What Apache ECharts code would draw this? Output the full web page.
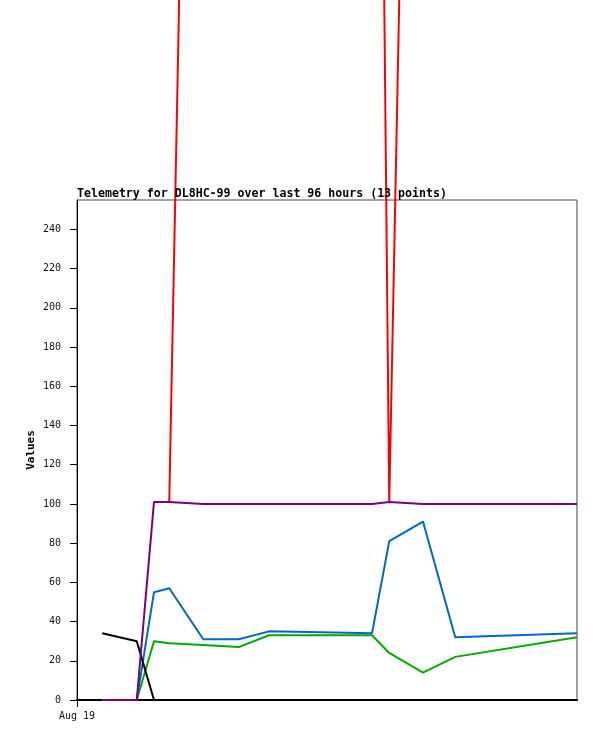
<!DOCTYPE html>
<html>
<head>
<meta charset="utf-8">
<script src="https://cdn.jsdelivr.net/npm/echarts@6/dist/echarts.min.js"></script>
<style>
html,body{margin:0;padding:0;background:#fff;}
#chart{width:597px;height:741px;}
</style>
</head>
<body>
<div id="chart"></div>
<script>
// hours after Aug 19 00:00
const times = [1.01, 2.39, 3.08, 3.69, 5.05, 6.47, 7.68, 11.8, 12.49, 13.84, 15.13, 20.0];
const redValues    = [null, null, null, 101, 980, 1000, 1000, 985, 101, 965, 1000, 1000];
const purpleValues = [0, 0, 101, 101, 100, 100, 100, 100, 101, 100, 100, 100];
const blueValues   = [0, 0, 55, 57, 31, 31, 35, 34, 81, 91, 32, 34];
const greenValues  = [0, 0, 30, 29, 28, 27, 33, 33, 24, 14, 22, 32];
const blackValues  = [34, 30, 0, 0, 0, 0, 0, 0, 0, 0, 0, 0];
const yTicks = [0, 20, 40, 60, 80, 100, 120, 140, 160, 180, 200, 220, 240];
const xTicks = [0];
const xTickLabels = ['Aug 19'];

const pair = arr => times.map((t, i) => [t, arr[i]]);
const mk = (name, arr, color, clip) => ({
  name, type: 'line', data: pair(arr), showSymbol: false, symbol: 'none',
  clip: clip, animation: false, connectNulls: false,
  lineStyle: { color: color, width: 2 }, itemStyle: { color: color }
});

const chart = echarts.init(document.getElementById('chart'), null, { renderer: 'canvas' });
chart.setOption({
  animation: false,
  backgroundColor: '#ffffff',
  title: {
    text: 'Telemetry for DL8HC-99 over last 96 hours (13 points)',
    left: 77, top: 188, padding: 0,
    textStyle: { fontFamily: 'DejaVu Sans Mono', fontWeight: 'bold', fontSize: 11.6, color: '#000' }
  },
  grid: {
    left: 77, right: 20, top: 200, bottom: 41,
    show: true, borderColor: '#444', borderWidth: 1, backgroundColor: 'transparent'
  },
  xAxis: {
    type: 'value', min: 0, max: times[times.length - 1],
    axisLine: { show: true, onZero: false, lineStyle: { color: '#000', width: 2 } },
    axisTick: { show: true, length: 7, customValues: xTicks, lineStyle: { color: '#000' } },
    axisLabel: {
      customValues: xTicks, margin: 11,
      formatter: v => xTickLabels[xTicks.indexOf(v)] || '',
      fontFamily: 'DejaVu Sans Mono', fontSize: 10, color: '#111'
    },
    splitLine: { show: false }
  },
  yAxis: {
    type: 'value', min: 0, max: 255,
    name: 'Values', nameLocation: 'middle', nameGap: 40, nameRotate: 90, nameMoveOverlap: false,
    nameTextStyle: { fontFamily: 'DejaVu Sans Mono', fontWeight: 'bold', fontSize: 11, color: '#000' },
    axisLine: { show: true, lineStyle: { color: '#000', width: 1 } },
    axisTick: { show: true, length: 7, customValues: yTicks, lineStyle: { color: '#000' } },
    axisLabel: {
      customValues: yTicks, margin: 16,
      fontFamily: 'DejaVu Sans Mono', fontSize: 10, color: '#111'
    },
    splitLine: { show: false }
  },
  series: [
    mk('red', redValues, '#ff0000', false),
    mk('green', greenValues, '#00aa00', true),
    mk('blue', blueValues, '#0066cc', true),
    mk('black', blackValues, '#000000', true),
    mk('purple', purpleValues, '#7a0078', true)
  ]
});
</script>
</body>
</html>
